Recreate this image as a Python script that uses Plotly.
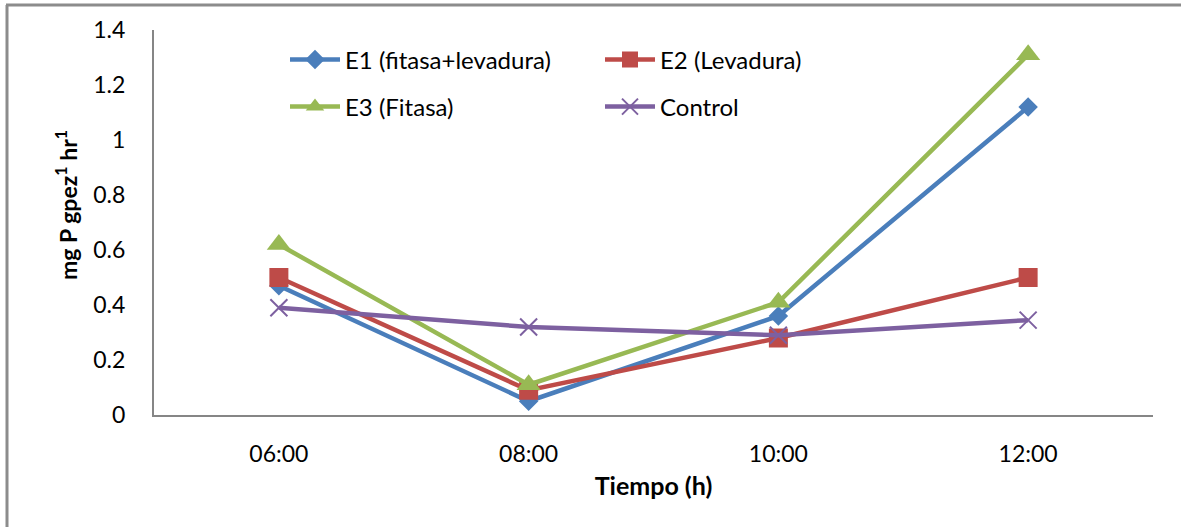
import plotly.graph_objects as go

categories = ["06:00", "08:00", "10:00", "12:00"]
e1 = [0.47, 0.05, 0.36, 1.12]
e2 = [0.50, 0.09, 0.28, 0.50]
e3 = [0.62, 0.11, 0.41, 1.31]
control = [0.39, 0.32, 0.29, 0.345]
y_ticks = [0, 0.2, 0.4, 0.6, 0.8, 1.0, 1.2, 1.4]
y_tick_labels = ["0", "0.2", "0.4", "0.6", "0.8", "1", "1.2", "1.4"]

FONT = "Lato, Liberation Sans, sans-serif"

fig = go.Figure()
fig.add_trace(go.Scatter(x=categories, y=e1, name="E1 (fitasa+levadura)", mode="lines+markers",
                         line=dict(color="#4a7ebb", width=4.5),
                         marker=dict(symbol="diamond", size=15, color="#4a7ebb"), legend="legend"))
fig.add_trace(go.Scatter(x=categories, y=e2, name="E2 (Levadura)", mode="lines+markers",
                         line=dict(color="#be4b48", width=4.5),
                         marker=dict(symbol="square", size=19, color="#be4b48"), legend="legend"))
fig.add_trace(go.Scatter(x=categories, y=e3, name="E3 (Fitasa)", mode="lines+markers",
                         line=dict(color="#98b954", width=4.5),
                         marker=dict(symbol="triangle-up", size=21, color="#98b954"), legend="legend2"))
fig.add_trace(go.Scatter(x=categories, y=control, name="Control", mode="lines+markers",
                         line=dict(color="#7d60a0", width=4.5),
                         marker=dict(symbol="x-thin-open", size=17, color="#7d60a0",
                                     line=dict(width=2, color="#7d60a0")), legend="legend2"))

L, R, T, B = 154, 28, 30, 112
W, H = 1181, 527
pw, ph = W - L - R, H - T - B

def px(xp):
    return (xp - L) / pw

def py(yp):
    return (H - B - yp) / ph

legend_common = dict(orientation="h", entrywidth=250, entrywidthmode="pixels",
                     font=dict(family=FONT, size=24, color="black"),
                     bgcolor="rgba(0,0,0,0)", itemwidth=50,
                     xanchor="left", yanchor="middle")

fig.update_layout(
    width=W, height=H,
    margin=dict(l=L, r=R, t=T, b=B),
    paper_bgcolor="white", plot_bgcolor="white",
    font=dict(family=FONT, size=23, color="black"),
    showlegend=True,
    legend=dict(x=px(285), y=py(60), **legend_common),
    legend2=dict(x=px(285), y=py(107), **legend_common),
    xaxis=dict(type="category", range=[-0.5, 3.5], showline=True, linecolor="#868686",
               linewidth=2, showgrid=False, ticks="", zeroline=False,
               tickfont=dict(family=FONT, size=23, color="black"), ticklabelstandoff=17,
               title=dict(text="<b>Tiempo (h)</b>", font=dict(family=FONT, size=25, color="black"),
                          standoff=12)),
    yaxis=dict(range=[0, 1.4], tickvals=y_ticks, ticktext=y_tick_labels, showline=True,
               linecolor="#868686", linewidth=2, showgrid=False, ticks="", zeroline=False,
               tickfont=dict(family=FONT, size=23, color="black"), ticklabelstandoff=22),
    annotations=[dict(text="<b>mg P gpez<sup>1</sup> hr<sup>1</sup></b>", textangle=-90,
                      x=px(66), y=py(205), xref="paper", yref="paper", showarrow=False,
                      xanchor="center", yanchor="middle",
                      font=dict(family=FONT, size=23, color="black"))],
    shapes=[
        dict(type="line", xref="paper", yref="paper", x0=px(7), x1=px(7), y0=py(5), y1=py(540),
             line=dict(color="#8c8c8c", width=3)),
        dict(type="line", xref="paper", yref="paper", x0=px(6), x1=px(1200), y0=py(5), y1=py(5),
             line=dict(color="#8c8c8c", width=3)),
    ],
)

fig.write_html("out.html")
